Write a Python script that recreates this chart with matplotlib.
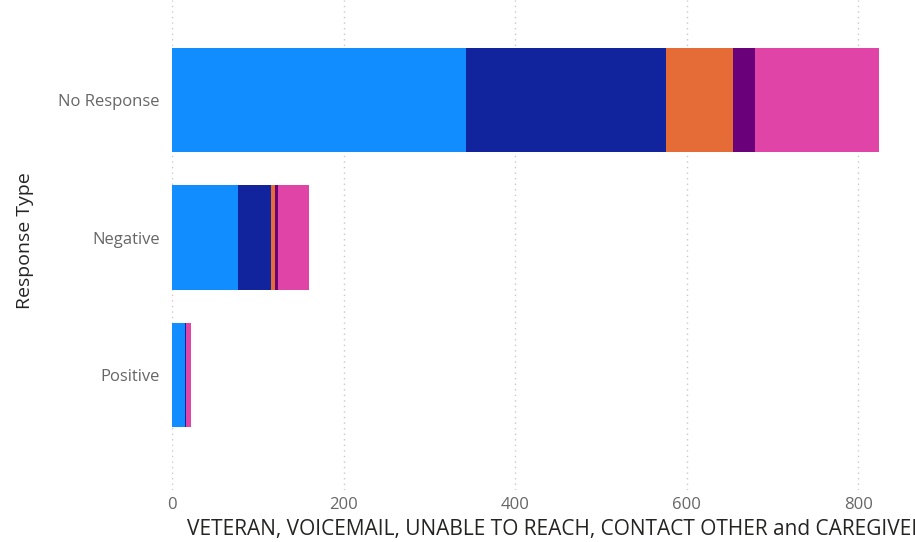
import matplotlib.pyplot as plt
import numpy as np

categories = ['Positive', 'Negative', 'No Response']
series_names = ['VETERAN', 'VOICEMAIL', 'UNABLE TO REACH', 'CONTACT OTHER', 'CAREGIVERS']
veteran = [15, 77, 343]
voicemail = [1, 38, 233]
unable_to_reach = [0, 5, 78]
contact_other = [0, 4, 25]
caregivers = [6, 36, 145]
colors = ['#118DFF', '#12239E', '#E66C37', '#6B007B', '#E044A7']

values = [veteran, voicemail, unable_to_reach, contact_other, caregivers]

fig = plt.figure(figsize=(9.15, 5.42), dpi=100)
ax = fig.add_axes([172 / 915, 1 - 490 / 542, (915 - 172) / 915, 490 / 542])

y = np.arange(len(categories))
left = np.zeros(len(categories))
for name, vals, c in zip(series_names, values, colors):
    ax.barh(y, vals, height=0.76, left=left, color=c, label=name, zorder=3)
    left += np.array(vals)

ax.set_xlim(0, 866)
ax.set_ylim(-0.836, 2.727)
ax.set_xticks([0, 200, 400, 600, 800])
ax.set_yticks(y)
ax.set_yticklabels(categories)
ax.grid(True, axis='x', linestyle=(0, (1, 3)), color='#c8c8c8', linewidth=1, zorder=0)
for s in ax.spines.values():
    s.set_visible(False)
ax.tick_params(axis='both', length=0, labelcolor='#666666', labelsize=12)
ax.tick_params(axis='y', pad=9)
ax.tick_params(axis='x', pad=5)
for lbl in ax.get_xticklabels() + ax.get_yticklabels():
    lbl.set_family('Open Sans')

fig.text(25 / 915, 1 - 241 / 542, 'Response Type', rotation=90, ha='center', va='center',
         fontsize=14, color='#252423', family='Open Sans')
fig.text(187 / 915, 1 - 529 / 542, 'VETERAN, VOICEMAIL, UNABLE TO REACH, CONTACT OTHER and CAREGIVERS',
         ha='left', va='center', fontsize=15, color='#252423', family='Open Sans')

fig.savefig('out.png', dpi=100)
